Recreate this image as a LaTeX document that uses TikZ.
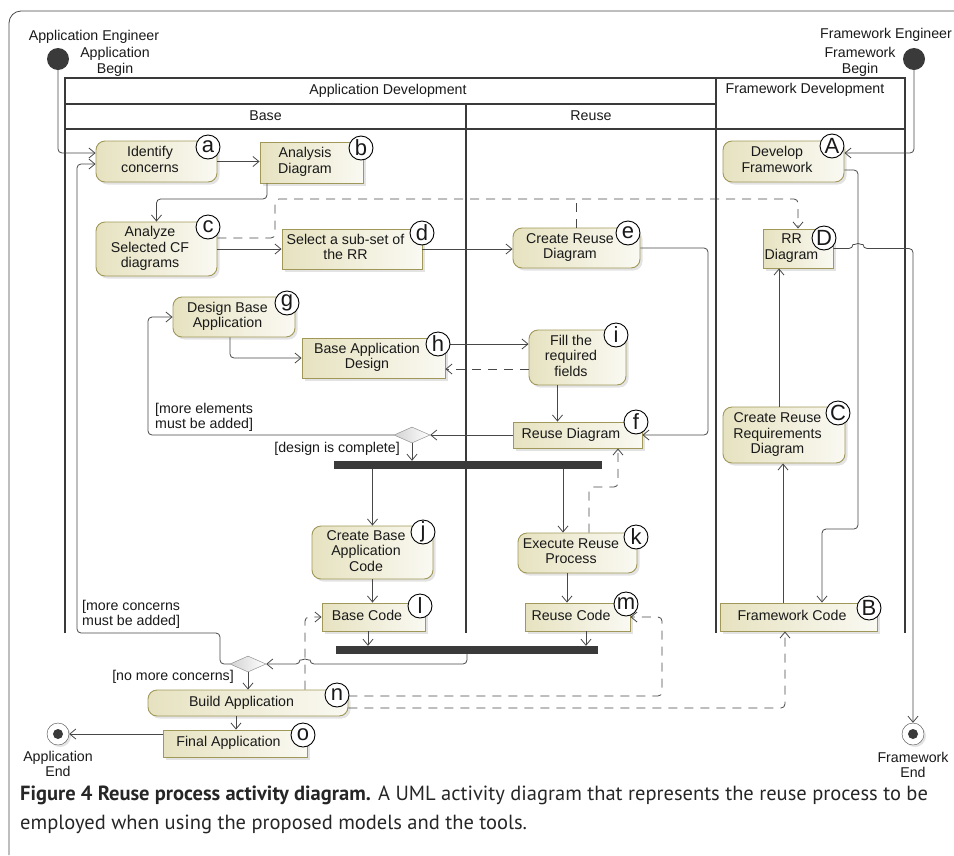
\documentclass[tikz,border=0pt]{standalone}
\usepackage{fontspec}
\setmainfont{Liberation Sans}
\newfontfamily\capfont{PT Sans}
\usepackage{xcolor}
\usepackage{tikz}
\usetikzlibrary{arrows.meta,shapes.geometric,shadows}
\definecolor{Cf}{RGB}{230,226,192}
\definecolor{Cb}{RGB}{160,152,88}
\definecolor{Cl}{RGB}{72,72,72}
\definecolor{Cg}{RGB}{58,58,58}
\definecolor{Ct}{RGB}{25,25,25}
\newcommand{\acttext}[1]{\begin{tabular}{@{}c@{\hspace{13pt}}}#1\end{tabular}}

\begin{document}
\begin{tikzpicture}[x=1pt,y=-1pt,text=Ct,
    font=\fontsize{14.2}{15.5}\selectfont,
    act/.style={draw=Cb,line width=0.9pt,rounded corners=9pt,left color=Cf,right color=Cf!20,
      inner sep=0pt,
      drop shadow={shadow xshift=2.5pt,shadow yshift=-2.5pt,opacity=.22}},
    obj/.style={act,rounded corners=0pt},
    tag/.style={circle,draw=black,fill=white,line width=0.9pt,minimum size=24pt,inner sep=0pt,
      font=\fontsize{22}{22}\selectfont},
    flow/.style={Cl,line width=0.8pt,rounded corners=4pt,-{Straight Barb[length=6pt,width=10pt]}},
    oflow/.style={flow,dash pattern=on 9pt off 7pt},
    lane/.style={Cg,line width=2pt},
    bar/.style={fill=Cg,inner sep=0pt},
    dec/.style={diamond,draw=gray,left color=gray!35,right color=white,inner sep=0pt,
      minimum width=36pt,minimum height=16pt},
    start/.style={circle,fill=Cg,minimum size=22pt,inner sep=0pt},
    final/.style={circle,draw=Cl,fill=white,minimum size=22pt,inner sep=0pt,
      drop shadow={shadow xshift=2pt,shadow yshift=-2pt,opacity=.22},
      path picture={\fill[Cg] (path picture bounding box.center) circle (5pt);}},
    guard/.style={align=left,inner sep=0pt}]
  \useasboundingbox (0,0) rectangle (954,855);
  \draw[Cl,line width=0.8pt,rounded corners=12pt] (9,855) -- (9,11) -- (954,11);

  % swimlanes
  \draw[lane] (65,633) -- (65,78) -- (905,78) -- (905,633);
  \draw[lane] (65,103.5) -- (716,103.5);
  \draw[lane] (65,129) -- (905,129);
  \draw[lane] (466,103.5) -- (466,633);
  \draw[lane] (716,78) -- (716,633);
  \node (hApp) at (388,91) {Application Development};
  \node (hBase) at (265.5,116) {Base};
  \node (hReuse) at (591,116) {Reuse};
  \node (hFw) at (805,90) {Framework Development};

  % initial and final nodes
  \node[start] (sA) at (58,59) {};
  \node[start] (sB) at (914,59) {};
  \node (lAE) at (94,37) {Application Engineer};
  \node[align=center] (lAB) at (115,62) {Application\\Begin};
  \node (lFE) at (886,35) {Framework Engineer};
  \node[align=center] (lFB) at (860,62) {Framework\\Begin};
  \node[final] (eA) at (58,734) {};
  \node[final] (eB) at (913,734) {};
  \node[align=center] (lAEnd) at (58,764) {Application\\End};
  \node[align=center] (lFEnd) at (913,765) {Framework\\End};

  % actions and objects
  \node[act,minimum width=121pt,minimum height=41pt] (a) at (156.5,161.5) {\acttext{Identify\\concerns}};
  \node[obj,minimum width=103pt,minimum height=41pt] (b) at (311.5,162.5) {\acttext{Analysis\\Diagram}};
  \node[act,minimum width=121pt,minimum height=54pt] (c) at (156.5,249) {\acttext{Analyze\\Selected CF\\diagrams}};
  \node[obj,minimum width=140pt,minimum height=40pt] (d) at (352,249) {\acttext{Select a sub-set of\\the RR}};
  \node[act,minimum width=127pt,minimum height=40pt] (e) at (576.5,248) {\acttext{Create Reuse\\Diagram}};
  \node[act,minimum width=121pt,minimum height=41pt] (A) at (783.5,161.5) {\acttext{Develop\\Framework}};
  \node[obj,minimum width=70pt,minimum height=39pt] (D) at (798,248.5) {\acttext{RR\\Diagram}};
  \node[act,minimum width=122pt,minimum height=40pt] (g) at (234,317) {\acttext{Design Base\\Application}};
  \node[obj,minimum width=143pt,minimum height=40pt] (h) at (373.5,358) {\acttext{Base Application\\Design}};
  \node[act,minimum width=97pt,minimum height=55pt] (i) at (577.5,357.5) {\acttext{Fill the\\required\\fields}};
  \node[obj,minimum width=129pt,minimum height=26pt] (f) at (577.5,435) {\acttext{Reuse Diagram}};
  \node[act,minimum width=122pt,minimum height=56pt] (C) at (784,435) {\acttext{Create Reuse\\Requirements\\Diagram}};
  \node[act,minimum width=121pt,minimum height=53pt] (j) at (372.5,552.5) {\acttext{Create Base\\Application\\Code}};
  \node[obj,minimum width=103pt,minimum height=28pt] (l) at (373.5,617) {\acttext{Base Code}};
  \node[act,minimum width=119pt,minimum height=40pt] (k) at (577.5,553) {\acttext{Execute Reuse\\Process}};
  \node[obj,minimum width=105pt,minimum height=28pt] (m) at (577.5,617) {\acttext{Reuse Code}};
  \node[obj,minimum width=157pt,minimum height=28pt] (B) at (798.5,617) {\acttext{Framework Code}};
  \node[act,minimum width=200pt,minimum height=26pt] (n) at (248,703) {\acttext{Build Application}};
  \node[obj,minimum width=144pt,minimum height=27pt] (o) at (235,743.5) {\acttext{Final Application}};

  % decisions and bars
  \node[dec] (d1) at (412,435) {};
  \node[dec] (d2) at (248,664) {};
  \node[bar,minimum width=268pt,minimum height=8pt] (bar1) at (468,465) {};
  \node[bar,minimum width=262pt,minimum height=8pt] (bar2) at (467,650) {};
  \node[guard,anchor=north west] (gMore) at (155,403) {[more elements\\must be added]};
  \node[guard,anchor=east] (gDone) at (400,449) {[design is complete]};
  \node[guard,anchor=north west] (gConc) at (82,600) {[more concerns\\must be added]};
  \node[guard,anchor=east] (gNo) at (234,677) {[no more concerns]};

  % control flows
  \draw[flow] (sA.south) |- ([yshift=8.5pt]a.west);
  \draw[flow] (d2.west) -| (220,633) -- (77,633) |- ([yshift=-2.5pt]a.west);
  \draw[flow] (a.east) -- (a.east -| b.west);
  \draw[flow] ([xshift=-44.5pt]b.south) -- (267,199) -| (c.north);
  \draw[flow] (c.east) -- (c.east -| d.west);
  \draw[flow] (d.east) -- (d.east -| e.west);
  \draw[flow] (e.east) -| (708,435) -- (f.east);
  \draw[flow] (sB.south) |- ([yshift=8.5pt]A.east);
  \draw[flow] ([yshift=-8.5pt]A.east) -| (858,529) -| ([xshift=23.5pt]B.north);
  \draw[flow] (D.east) -- (853,248.5) arc[start angle=180,end angle=0,radius=5pt] -| (eB.north);
  \draw[flow] ([xshift=-5pt]C.north) -- ([xshift=-5pt]C.north |- D.south);
  \draw[flow] ([xshift=-15.5pt]B.north) -- ([xshift=-15.5pt]B.north |- C.south);
  \draw[flow] ([xshift=-4pt]g.south) |- (h.west);
  \draw[flow] ([yshift=14pt]h.east) -- ([yshift=14pt]h.east -| i.west);
  \draw[flow] ([xshift=-20pt]i.south) -- ([xshift=-20pt]i.south |- f.north);
  \draw[flow] (f.west) -- (d1.east);
  \draw[flow] (d1.west) -- (148,435) |- (g.west);
  \draw[flow] (d1.south) -- (d1.south |- bar1.north);
  \draw[flow] (j.north |- bar1.south) -- (j.north);
  \draw[flow] ([xshift=-14.5pt]k.north |- bar1.south) -- ([xshift=-14.5pt]k.north);
  \draw[flow] (j.south) -- (j.south |- l.north);
  \draw[flow] ([xshift=-10.5pt]k.south) -- ([xshift=-10.5pt]k.south |- m.north);
  \draw[flow] ([xshift=-5.5pt]l.south) -- ([xshift=-5.5pt]l.south |- bar2.north);
  \draw[flow] ([xshift=8.5pt]m.south) -- ([xshift=8.5pt]m.south |- bar2.north);
  \draw[flow] (bar2.south) |- (310,664) arc[start angle=0,end angle=180,radius=5pt] -- (d2.east);
  \draw[flow] (d2.south) -- (d2.south |- n.north);
  \draw[flow] ([xshift=-12pt]n.south) -- ([xshift=-12pt]n.south |- o.north);
  \draw[flow] ([yshift=9.5pt]o.west) -- (eA.east);

  % object flows
  \draw[oflow] ([yshift=11pt]c.east) -| (275,199) -| (D.north);
  \draw[oflow,-] (e.north) -- (e.north |- 0,199);
  \draw[oflow] ([yshift=-11.5pt]i.west) -- ([yshift=-11.5pt]i.west -| h.east);
  \draw[oflow] ([xshift=11.5pt]k.north) -- (589,487) -| ([xshift=40.5pt]f.south);
  \draw[oflow] ([xshift=57pt]n.north) |- (l.west);
  \draw[oflow] ([yshift=7pt]n.east) -| (662,617) -- (m.east);
  \draw[oflow] ([yshift=-5pt]n.east) -| ([xshift=-13.5pt]B.south);

  % letter tags
  \foreach \t/\x/\y in {a/208/147,b/361/148,c/208/227,d/422/233,e/628/233,A/832/146,D/824/238,
      g/287/303,h/438/344,i/616/335,f/636/422,C/838/413,j/423/532,l/420/606,k/636/537,
      m/626/604,B/869/608,n/337/695,o/303/735}
    \node[tag] (t\t) at (\x,\y) {\t};

  \node[anchor=north west,inner sep=0pt,align=left,text=black!85,
    font=\capfont\fontsize{20.5}{29}\selectfont] (cap) at (20,786)
    {\textbf{Figure 4 Reuse process activity diagram.} A UML activity diagram that represents the reuse process to be\\
     employed when using the proposed models and the tools.};
\end{tikzpicture}
\end{document}
